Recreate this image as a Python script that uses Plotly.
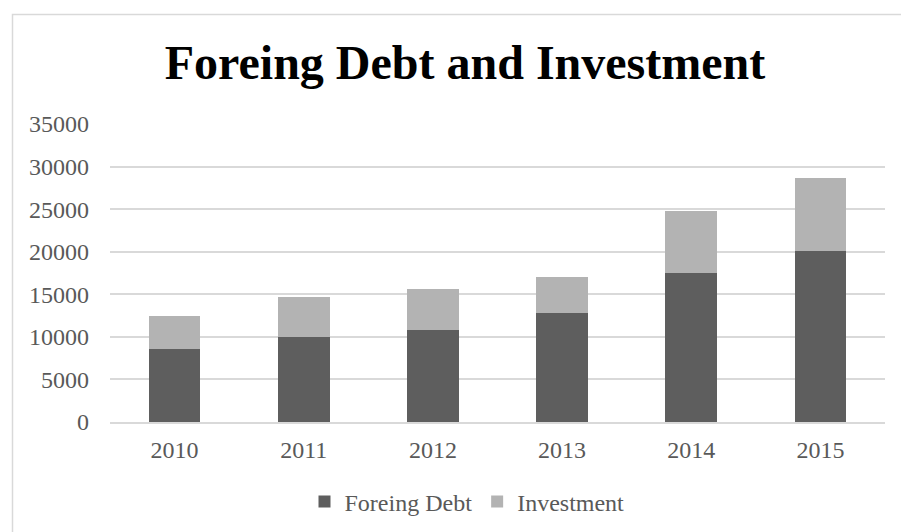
import plotly.graph_objects as go

years = ["2010", "2011", "2012", "2013", "2014", "2015"]
foreign_debt = [8600, 10000, 10800, 12850, 17500, 20100]
investment = [3800, 4700, 4800, 4150, 7300, 8550]

W, H = 901, 532
L, R, T, B = 110, 16, 124, 110
pw, ph = W - L - R, H - T - B

fig = go.Figure()
fig.add_trace(go.Bar(x=years, y=foreign_debt, name="Foreing Debt",
                     marker=dict(color="#5e5e5e", line=dict(width=0))))
fig.add_trace(go.Bar(x=years, y=investment, name="Investment",
                     marker=dict(color="#b3b3b3", line=dict(width=0))))

# outer chart frame
fig.add_shape(type="rect", xref="paper", yref="paper",
              x0=(12.5 - L) / pw, x1=(W + 10 - L) / pw,
              y0=-(H + 10 - (T + ph)) / ph, y1=(T + ph - 14.5) / ph,
              line=dict(color="#d9d9d9", width=1.5), layer="below")

fig.update_layout(
    width=W, height=H,
    margin=dict(l=L, r=R, t=T, b=B, autoexpand=False),
    barmode="stack", bargap=0.6,
    paper_bgcolor="white", plot_bgcolor="white",
    font=dict(family="Liberation Serif", color="#595959", size=24),
    title=dict(text="<b>Foreing Debt and Investment</b>",
               font=dict(family="Liberation Serif", size=48, color="#000000"),
               x=465 / W, xref="container", xanchor="center",
               y=(H - 62) / H, yanchor="middle"),
    xaxis=dict(showgrid=False, showline=True, linecolor="#d9d9d9", linewidth=1.5,
               ticks="", tickangle=0, tickfont=dict(size=24, color="#595959"),
               ticklabelstandoff=5),
    yaxis=dict(range=[0, 35000], dtick=5000, tickformat="d", showgrid=True,
               gridcolor="#d9d9d9", gridwidth=1.5, zeroline=False, ticks="",
               tickfont=dict(size=24, color="#595959"), ticklabelstandoff=20),
    legend=dict(orientation="h", x=(467 - L) / pw, xanchor="center", xref="paper",
                y=-(502 - (T + ph)) / ph, yanchor="middle",
                font=dict(size=24, color="#595959"), traceorder="normal",
                itemwidth=30, itemsizing="constant"),
    showlegend=True,
)

fig.write_html("out.html")
